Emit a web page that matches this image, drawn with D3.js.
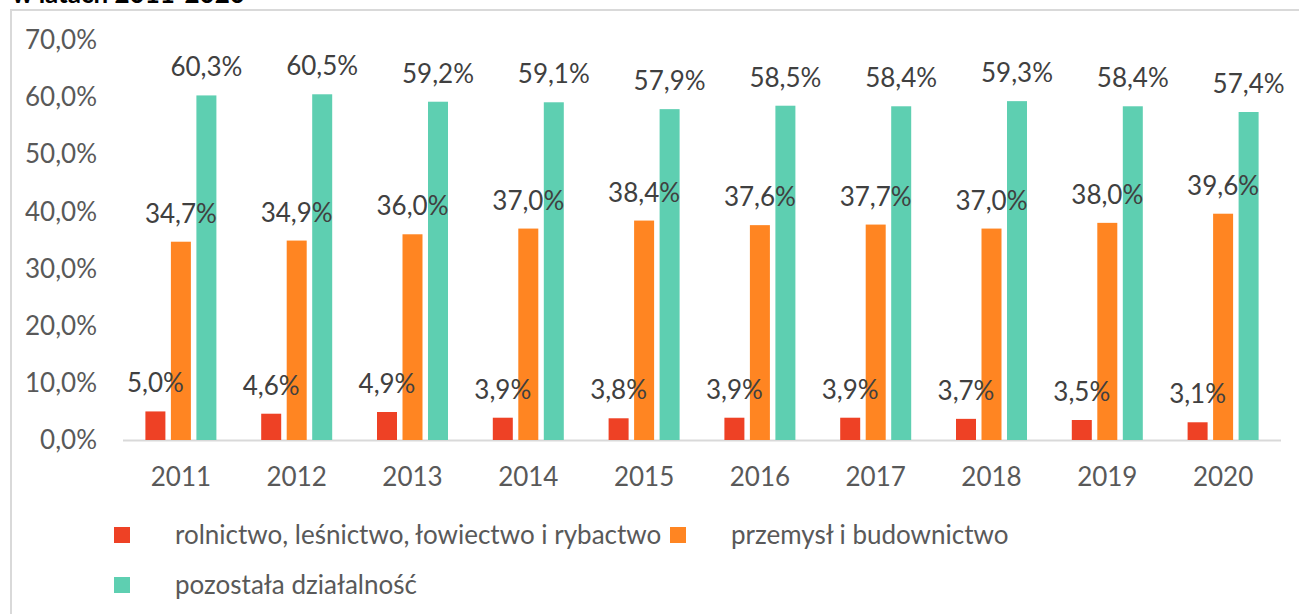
<!DOCTYPE html>
<html>
<head>
<meta charset="utf-8">
<script src="https://d3js.org/d3.v7.min.js"></script>
<style>
  body { margin: 0; background: #fff; }
  text { font-family: Lato, "Open Sans", sans-serif; }
</style>
</head>
<body>
<div id="chart"></div>
<script>
var years = ["2011","2012","2013","2014","2015","2016","2017","2018","2019","2020"];
var rolnictwo = [5.0, 4.6, 4.9, 3.9, 3.8, 3.9, 3.9, 3.7, 3.5, 3.1];
var przemysl = [34.7, 34.9, 36.0, 37.0, 38.4, 37.6, 37.7, 37.0, 38.0, 39.6];
var pozostala = [60.3, 60.5, 59.2, 59.1, 57.9, 58.5, 58.4, 59.3, 58.4, 57.4];
var seriesNames = ["rolnictwo, leśnictwo, łowiectwo i rybactwo", "przemysł i budownictwo", "pozostała działalność"];
var colors = ["#ee4125", "#ff8522", "#5ecfb1"];
var yTicks = [0, 10, 20, 30, 40, 50, 60, 70];

var series = [rolnictwo, przemysl, pozostala];
var fmt = function(v) { return v.toFixed(1).replace(".", ",") + "%"; };

var svg = d3.select('#chart')
            .append('svg')
            .attr('width', 1299)
            .attr('height', 614);

// title, mostly cut off at the top (as in the source)
svg.append('text')
   .attr('x', 12).attr('y', 3)
   .attr('font-size', '26px')
   .attr('font-weight', 'bold')
   .attr('fill', '#000')
   .text('w latach 2011-2020');

// chart frame
svg.append('path')
   .attr('d', 'M11,620 V10 H1305')
   .attr('fill', 'none')
   .attr('stroke', '#d9d9d9')
   .attr('stroke-width', 2);

var x = d3.scaleBand().domain(years).range([123, 1281]);
var y = d3.scaleLinear().domain([0, 70]).range([440, 40]);
var barW = 20, step = 25.5;

// y axis labels
svg.selectAll('.ytick').data(yTicks).enter()
   .append('text')
   .attr('x', 97)
   .attr('y', function(d) { return y(d); })
   .attr('dy', '0.35em')
   .attr('text-anchor', 'end')
   .attr('font-size', '26px')
   .attr('fill', '#595959')
   .text(function(d) { return d.toFixed(1).replace(".", ",") + "%"; });

// baseline
svg.append('line')
   .attr('x1', 123).attr('x2', 1281)
   .attr('y1', 440.5).attr('y2', 440.5)
   .attr('stroke', '#d9d9d9')
   .attr('stroke-width', 2);

// bars
series.forEach(function(vals, s) {
  var off = (s - 1) * step;
  svg.selectAll('.bar' + s).data(vals).enter()
     .append('rect')
     .attr('x', function(d, i) { return x(years[i]) + x.bandwidth() / 2 + off - barW / 2; })
     .attr('y', function(d) { return y(d); })
     .attr('width', barW)
     .attr('height', function(d) { return y(0) - y(d); })
     .attr('fill', colors[s]);
});

// data labels
series.forEach(function(vals, s) {
  var off = (s - 1) * step;
  svg.selectAll('.lab' + s).data(vals).enter()
     .append('text')
     .attr('x', function(d, i) { return x(years[i]) + x.bandwidth() / 2 + off; })
     .attr('y', function(d) { return y(d) - 19; })
     .attr('text-anchor', 'middle')
     .attr('font-size', '26px')
     .attr('fill', '#404040')
     .text(fmt);
});

// x axis labels
svg.selectAll('.xtick').data(years).enter()
   .append('text')
   .attr('x', function(d) { return x(d) + x.bandwidth() / 2; })
   .attr('y', 477)
   .attr('dy', '0.35em')
   .attr('text-anchor', 'middle')
   .attr('font-size', '26px')
   .attr('fill', '#595959')
   .text(function(d) { return d; });

// legend
var legendPos = [[114, 535], [670, 535], [114, 585]];
seriesNames.forEach(function(name, s) {
  var p = legendPos[s];
  svg.append('rect')
     .attr('x', p[0]).attr('y', p[1] - 8)
     .attr('width', 16).attr('height', 16)
     .attr('fill', colors[s]);
  svg.append('text')
     .attr('x', p[0] + 61).attr('y', p[1])
     .attr('dy', '0.35em')
     .attr('font-size', '26px')
     .attr('fill', '#595959')
     .text(name);
});
</script>
</body>
</html>
